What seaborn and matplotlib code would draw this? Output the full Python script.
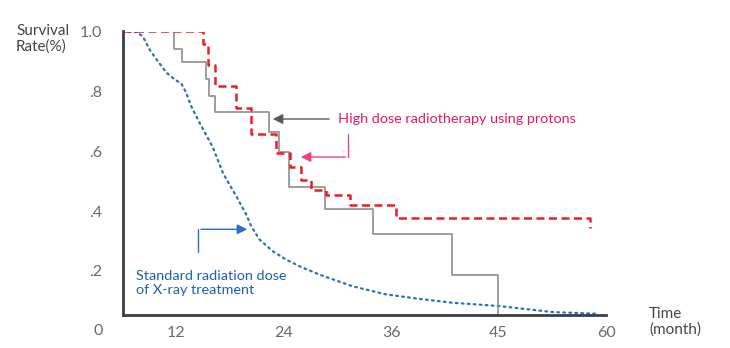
import matplotlib
matplotlib.use("Agg")
import matplotlib.pyplot as plt
import seaborn as sns
import pandas as pd

# ---- data (x in chart's month-scale; tick "45" sits at position 48) ----
xray_t = [6.0, 7.59, 8.26, 9.04, 9.82, 10.90, 11.64, 12.57, 13.05, 13.68, 14.05, 14.61,
          16.09, 17.20, 18.70, 19.81, 20.37, 21.29, 22.77, 24.26, 25.75, 27.97, 31.68,
          35.40, 39.11, 42.82, 48.02, 53.96, 59.16]
xray_s = [1.0, 0.998, 0.983, 0.938, 0.905, 0.862, 0.844, 0.825, 0.798, 0.749, 0.727, 0.694,
          0.612, 0.527, 0.449, 0.388, 0.349, 0.305, 0.266, 0.238, 0.216, 0.188, 0.149,
          0.122, 0.107, 0.094, 0.083, 0.063, 0.057]

grey_t = [6.0, 11.75, 12.57, 15.28, 15.64, 16.28, 22.33, 23.44, 24.63, 28.64, 33.99, 42.82, 47.94]
grey_s = [1.0, 0.941, 0.899, 0.841, 0.783, 0.731, 0.663, 0.597, 0.481, 0.408, 0.322, 0.185, 0.04]

proton_t = [6.0, 14.98, 15.48, 16.34, 18.64, 20.37, 23.15, 24.71, 25.88, 27.05, 28.75,
            31.39, 36.52, 58.23]
proton_s = [1.0, 0.958, 0.887, 0.819, 0.743, 0.657, 0.594, 0.549, 0.505, 0.472, 0.453,
            0.419, 0.377, 0.344]

xtick_pos = [12, 24, 36, 48, 60]
xtick_lab = ["12", "24", "36", "45", "60"]
ytick_pos = [0.2, 0.4, 0.6, 0.8, 1.0]
ytick_lab = [".2", ".4", ".6", ".8", "1.0"]

sns.set_style("white")
plt.rcParams["font.family"] = ["Lato", "DejaVu Sans"]

W, H = 730, 348
fig = plt.figure(figsize=(W / 100, H / 100), dpi=100)
ax = fig.add_axes([122.7 / W, 1 - 315 / H, (606 - 122.7) / W, (315 - 31.5) / H])

df_x = pd.DataFrame({"t": xray_t, "s": xray_s})
df_g = pd.DataFrame({"t": grey_t, "s": grey_s})
df_p = pd.DataFrame({"t": proton_t, "s": proton_s})

sns.lineplot(data=df_x, x="t", y="s", ax=ax, color="#2a6fc0", lw=1.6,
             linestyle=(0, (0.8, 1.9)), dash_capstyle="round", sort=False)
sns.lineplot(data=df_g, x="t", y="s", ax=ax, color="#8e8e8e", lw=1.2,
             drawstyle="steps-post", sort=False)
sns.lineplot(data=df_p, x="t", y="s", ax=ax, color="#ee1c25", lw=1.8,
             drawstyle="steps-post", linestyle=(0, (3.2, 1.8)), sort=False)

ax.set_xlim(6, 60)
ax.set_ylim(0.053, 1.0)
ax.set_xlabel("")
ax.set_ylabel("")
for s in ["top", "right"]:
    ax.spines[s].set_visible(False)
for s in ["left", "bottom"]:
    ax.spines[s].set_color("#3a3e45")
    ax.spines[s].set_linewidth(2.0)
ax.set_xticks(xtick_pos)
ax.set_xticklabels(xtick_lab)
ax.set_yticks(ytick_pos)
ax.set_yticklabels(ytick_lab)
ax.tick_params(axis="x", length=0, pad=8, labelsize=11.5, labelcolor="#6a6a6a")
ax.tick_params(axis="y", length=0, pad=15, labelsize=11.5, labelcolor="#6a6a6a")

# corner zero, axis titles
fig.text(98 / W, 1 - 331 / H, "0", ha="center", va="center", fontsize=11.5, color="#6a6a6a")
fig.text(16 / W, 1 - 39 / H, "Survival\nRate(%)", ha="left", va="center", fontsize=11,
         color="#444444", linespacing=1.15)
fig.text(649 / W, 1 - 322 / H, "Time\n(month)", ha="left", va="center", fontsize=11,
         color="#444444", linespacing=1.15)

def px(xp, yp):
    return (xp / W, 1 - yp / H)

# grey arrow
ax.annotate("", xy=px(270, 119), xytext=px(332, 119), xycoords="figure fraction",
            textcoords="figure fraction",
            arrowprops=dict(arrowstyle="-|>,head_length=0.6,head_width=0.3", color="#555a62", lw=1.0))
fig.text(338 / W, 1 - 119 / H, "High dose radiotherapy using protons", ha="left", va="center",
         fontsize=10.4, color="#e8175d")
# pink arrow
ax.annotate("", xy=px(298, 157), xytext=px(348.3, 157), xycoords="figure fraction",
            textcoords="figure fraction",
            arrowprops=dict(arrowstyle="-|>,head_length=0.6,head_width=0.3", color="#f0457a", lw=1.0))
fig.lines.append(plt.Line2D([348.3 / W, 348.3 / W], [1 - 134 / H, 1 - 157 / H],
                            transform=fig.transFigure, color="#f0457a", lw=1.0))
# blue arrow
ax.annotate("", xy=px(250, 229.3), xytext=px(198.3, 229.3), xycoords="figure fraction",
            textcoords="figure fraction",
            arrowprops=dict(arrowstyle="-|>,head_length=0.6,head_width=0.3", color="#2a6fc0", lw=1.0))
fig.lines.append(plt.Line2D([198.3 / W, 198.3 / W], [1 - 229.3 / H, 1 - 252 / H],
                            transform=fig.transFigure, color="#2a6fc0", lw=1.0))
fig.text(136 / W, 1 - 283 / H, "Standard radiation dose\nof X-ray treatment", ha="left",
         va="center", fontsize=10.4, color="#1f5fb0", linespacing=1.2)

fig.savefig("out.png", dpi=100)
